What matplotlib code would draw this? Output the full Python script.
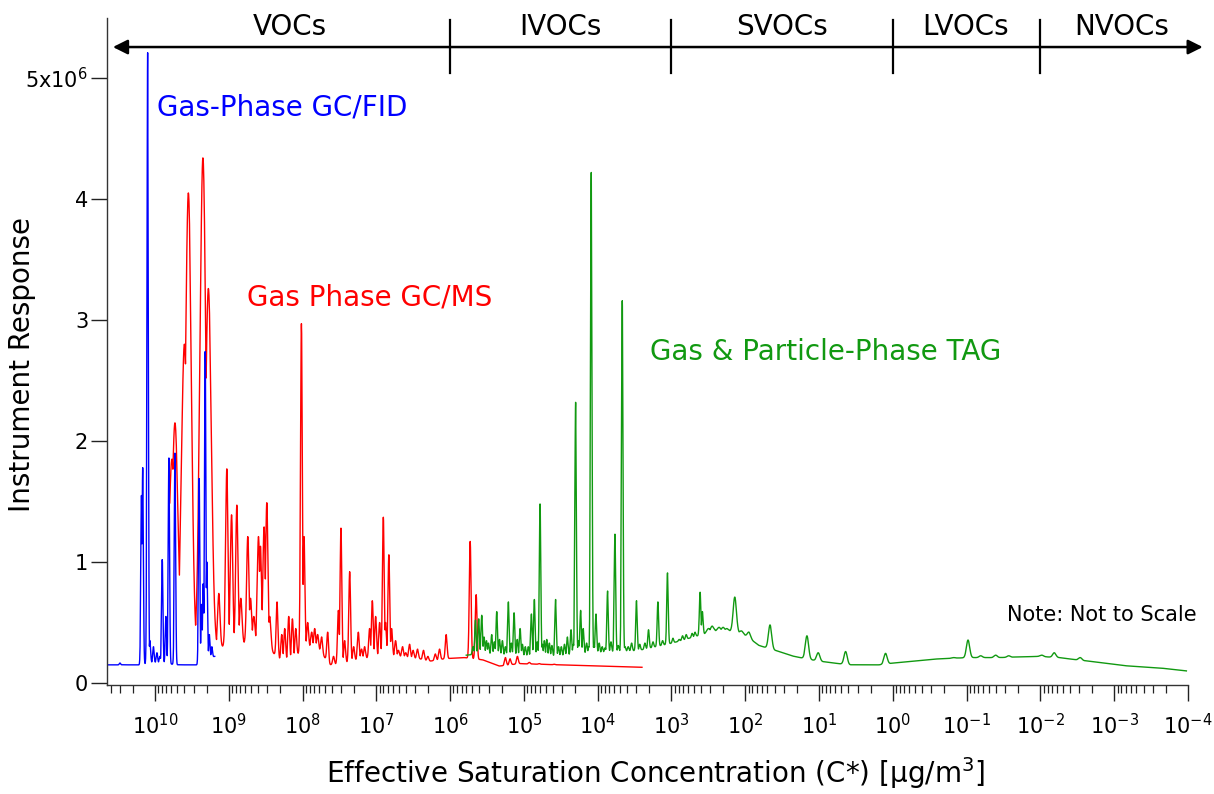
import numpy as np
import matplotlib
matplotlib.use('Agg')
import matplotlib.pyplot as plt
from matplotlib.ticker import LogLocator, NullFormatter, FuncFormatter

# 横軸は log10(C*)、縦軸は 10^6 単位で読み取った値

# GC/FID (青)
fid_base_logc = [10.64, 10.20, 10.05, 9.95, 9.70, 9.42, 9.30, 9.19]
fid_base_resp = [0.15, 0.15, 0.17, 0.17, 0.15, 0.15, 0.20, 0.22]
fid_peak_logc = [10.474, 10.183, 10.166, 10.099, 10.068, 10.020, 9.973, 9.932, 9.901,
                 9.851, 9.811, 9.729, 9.401, 9.368, 9.346, 9.319, 9.296, 9.262, 9.229]
fid_peak_resp = [0.165, 1.55, 1.78, 5.21, 0.35, 0.30, 0.25, 0.22, 1.02,
                 0.55, 1.86, 1.90, 1.69, 0.65, 0.82, 2.74, 1.00, 0.40, 0.30]

# GC/MS (赤)
ms_base_logc = [9.80, 9.30, 9.10, 8.90, 8.55, 8.40, 8.28, 8.10, 8.00, 7.80, 7.632, 7.40,
                7.226, 6.955, 6.685, 6.414, 6.279, 6.076, 5.805, 5.548, 5.467, 5.332,
                5.061, 4.520, 3.978, 3.40]
ms_base_resp = [0.30, 0.28, 0.30, 0.33, 0.33, 0.25, 0.18, 0.20, 0.30, 0.30, 0.15, 0.17,
                0.20, 0.22, 0.22, 0.20, 0.18, 0.20, 0.21, 0.19, 0.17, 0.14,
                0.16, 0.15, 0.14, 0.13]
ms_peak_logc = [9.770, 9.729, 9.601, 9.547, 9.350, 9.276, 9.134, 9.026, 8.962, 8.890,
                8.836, 8.742, 8.705, 8.660, 8.597, 8.570, 8.521, 8.484, 8.444, 8.345,
                8.281, 8.241, 8.187, 8.137, 8.092, 8.015, 7.980, 7.930, 7.876, 7.835,
                7.794, 7.740, 7.659, 7.580, 7.514, 7.479, 7.429, 7.361, 7.307, 7.244,
                7.200, 7.158, 7.091, 7.054, 7.009, 6.955, 6.905, 6.874, 6.830, 6.793,
                6.739, 6.700, 6.644, 6.600, 6.549, 6.500, 6.441, 6.360, 6.300, 6.200,
                6.143, 6.053, 5.728, 5.647, 5.250, 5.187, 5.088, 4.926, 4.790, 4.587]
ms_peak_resp = [1.85, 2.15, 2.80, 4.05, 4.34, 3.26, 0.74, 1.77, 1.39, 1.47,
                0.70, 1.21, 0.70, 0.55, 1.21, 1.13, 1.29, 1.49, 0.55, 0.67,
                0.40, 0.45, 0.55, 0.53, 0.45, 2.97, 1.21, 0.50, 0.42, 0.45,
                0.40, 0.38, 0.42, 0.22, 0.60, 1.28, 0.35, 0.92, 0.30, 0.42,
                0.28, 0.30, 0.45, 0.68, 0.55, 0.50, 1.37, 0.50, 1.06, 0.45,
                0.35, 0.27, 0.30, 0.25, 0.32, 0.27, 0.28, 0.27, 0.22, 0.24,
                0.28, 0.40, 1.17, 0.73, 0.21, 0.20, 0.22, 0.17, 0.16, 0.155]

# TAG (緑)
tag_base_logc = [5.782, 5.602, 5.332, 4.926, 4.520, 4.249, 3.978, 3.437, 2.990, 2.760,
                 2.535, 2.422, 2.152, 2.016, 1.949, 1.813, 1.597, 1.340, 1.001, 0.595,
                 0.189, -0.081, -0.622, -1.028, -1.434, -1.976, -2.246, -2.788, -3.194,
                 -3.694, -3.978]
tag_base_resp = [0.23, 0.24, 0.23, 0.22, 0.22, 0.24, 0.25, 0.27, 0.33, 0.37,
                 0.41, 0.43, 0.43, 0.40, 0.37, 0.31, 0.27, 0.22, 0.18, 0.15,
                 0.15, 0.17, 0.20, 0.21, 0.21, 0.22, 0.21, 0.17, 0.14,
                 0.12, 0.10]
tag_peak_logc = [5.690, 5.656, 5.612, 5.571, 5.540, 5.507, 5.480, 5.436, 5.400, 5.368,
                 5.330, 5.291, 5.250, 5.210, 5.170, 5.133, 5.090, 5.051, 5.020, 4.980,
                 4.940, 4.898, 4.858, 4.820, 4.781, 4.750, 4.723, 4.690, 4.655, 4.620,
                 4.570, 4.530, 4.493, 4.450, 4.410, 4.361, 4.330, 4.299, 4.260, 4.231,
                 4.195, 4.150, 4.120, 4.087, 4.050, 4.023, 3.980, 3.938, 3.900, 3.866,
                 3.820, 3.766, 3.720, 3.667, 3.630, 3.586, 3.540, 3.474, 3.430, 3.360,
                 3.311, 3.250, 3.184, 3.120, 3.054, 2.980, 2.896, 2.850, 2.800, 2.720,
                 2.680, 2.612, 2.581, 2.500, 2.450, 2.355, 2.300, 2.250, 2.142, 2.050,
                 1.949, 1.664, 1.164, 1.011, 0.640, 0.099, -0.149,
                 -0.420, -0.622, -0.825, -1.019, -1.191, -1.394, -1.570, -2.020, -2.188,
                 -2.355, -2.540, -3.162]
tag_peak_resp = [0.30, 0.52, 0.53, 0.56, 0.38, 0.35, 0.33, 0.40, 0.34, 0.59,
                 0.36, 0.35, 0.30, 0.67, 0.33, 0.58, 0.36, 0.45, 0.32, 0.30,
                 0.30, 0.57, 0.69, 0.34, 1.48, 0.32, 0.35, 0.36, 0.33, 0.31,
                 0.69, 0.30, 0.30, 0.32, 0.38, 0.44, 0.32, 2.32, 0.35, 0.60,
                 0.45, 0.33, 0.30, 4.22, 0.31, 0.57, 0.33, 0.30, 0.29, 0.76,
                 0.34, 1.23, 0.31, 3.16, 0.30, 0.30, 0.33, 0.68, 0.32, 0.33,
                 0.44, 0.34, 0.67, 0.35, 0.91, 0.37, 0.36, 0.39, 0.40, 0.41,
                 0.42, 0.75, 0.59, 0.45, 0.47, 0.46, 0.46, 0.45, 0.71, 0.43,
                 0.42, 0.48, 0.39, 0.25, 0.26, 0.245, 0.17,
                 0.18, 0.20, 0.21, 0.355, 0.225, 0.23, 0.225, 0.23, 0.25,
                 0.20, 0.21, 0.13]

decades = list(range(10, -5, -1))
class_names = ['VOCs', 'IVOCs', 'SVOCs', 'LVOCs', 'NVOCs']
class_bounds = [6, 3, 0, -2]
class_label_logc = [8.17, 4.51, 1.50, -0.99, -3.10]


def make_trace(base_logc, base_resp, peak_logc, peak_resp, width):
    bx = np.array(base_logc)[::-1]
    by = np.array(base_resp)[::-1]
    L = np.arange(bx[0], bx[-1], 0.0008)
    base = np.interp(L, bx, by)
    y = base.copy()
    for p, top in zip(peak_logc, peak_resp):
        amp = top - np.interp(p, bx, by)
        if amp <= 0:
            continue
        s = width(p)
        y = np.maximum(y, base + amp * np.exp(-0.5 * ((L - p) / s) ** 2))
    return 10.0 ** L, y * 1e6


def ms_width(p):
    if p > 9.25:
        return 0.040
    if p > 8.4:
        return 0.016
    return 0.012


fid_x, fid_y = make_trace(fid_base_logc, fid_base_resp, fid_peak_logc, fid_peak_resp,
                          lambda p: 0.009)
ms_x, ms_y = make_trace(ms_base_logc, ms_base_resp, ms_peak_logc, ms_peak_resp, ms_width)
tag_x, tag_y = make_trace(tag_base_logc, tag_base_resp, tag_peak_logc, tag_peak_resp,
                          lambda p: 0.010 if p > 2.5 else 0.022)

plt.rcParams['font.family'] = 'DejaVu Sans'
plt.rcParams['mathtext.default'] = 'regular'

fig = plt.figure(figsize=(12.14, 7.94), dpi=100)
ax = fig.add_axes([107 / 1214, (794 - 685) / 794, 1081 / 1214, 667 / 794])

ax.plot(ms_x, ms_y, color='#ff0000', lw=1.0)
ax.plot(fid_x, fid_y, color='#0000ff', lw=1.0)
ax.plot(tag_x, tag_y, color='#119911', lw=1.0)

ax.set_xscale('log')
ax.set_xlim(10 ** 10.65, 1e-4)
ax.set_ylim(-0.0165e6, 5.496e6)

ax.set_xticks([10.0 ** k for k in decades], ['$10^{%d}$' % k for k in decades])
ax.xaxis.set_minor_locator(LogLocator(base=10, subs=np.arange(2, 10), numticks=200))
ax.xaxis.set_minor_formatter(NullFormatter())
ax.set_yticks([0, 1e6, 2e6, 3e6, 4e6, 5e6])
ax.yaxis.set_major_formatter(FuncFormatter(
    lambda v, pos: '5x10$^{6}$' if v == 5e6 else '%d' % round(v / 1e6)))

ax.tick_params(axis='both', which='major', direction='out', length=11.5, width=1.0,
               labelsize=15, color='#222222')
ax.tick_params(axis='x', which='major', pad=9)
ax.tick_params(axis='y', which='major', pad=2)
ax.tick_params(axis='x', which='minor', direction='out', length=5.5, width=0.9,
               color='#222222')
for side in ['top', 'right']:
    ax.spines[side].set_visible(False)
for side in ['left', 'bottom']:
    ax.spines[side].set_linewidth(1.0)
    ax.spines[side].set_color('#333333')

ax.set_xlabel('Effective Saturation Concentration (C*) [$\\mu$g/m$^{3}$]', fontsize=20)
ax.set_ylabel('Instrument Response', fontsize=20)
ax.xaxis.set_label_coords(0.507, -0.105)
ax.yaxis.set_label_coords(-0.066, 0.48)

ax.text(10 ** 9.97, 4.76e6, 'Gas-Phase GC/FID', color='#0000ff', fontsize=20, va='center')
ax.text(10 ** 8.753, 3.19e6, 'Gas Phase GC/MS', color='#ff0000', fontsize=20, va='center')
ax.text(10 ** 3.292, 2.736e6, 'Gas & Particle-Phase TAG', color='#119911', fontsize=20,
        va='center')
ax.text(10 ** -4.12, 0.562e6, 'Note: Not to Scale', fontsize=15, ha='right', va='center')

# 上部の揮発性分類の矢印
arrow_y = 5.256e6
ax.annotate('', xy=(10 ** -4.20, arrow_y), xytext=(10 ** 10.57, arrow_y),
            arrowprops=dict(arrowstyle='<|-|>', color='black', lw=1.8, mutation_scale=22,
                            shrinkA=0, shrinkB=0),
            annotation_clip=False)
for b in class_bounds:
    ax.plot([10.0 ** b, 10.0 ** b], [5.041e6, 5.479e6], color='black', lw=1.6,
            clip_on=False)
for name, lc in zip(class_names, class_label_logc):
    ax.text(10 ** lc, 5.355e6, name, fontsize=20, ha='center', va='baseline')

fig.savefig('out.png', dpi=100)
